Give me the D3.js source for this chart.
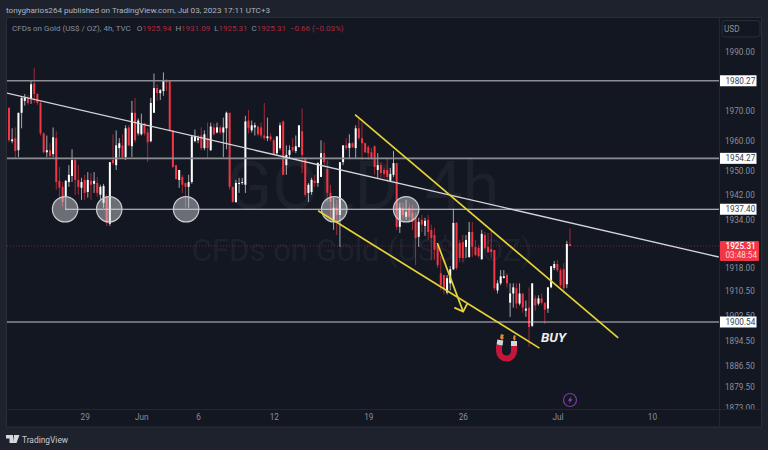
<!DOCTYPE html>
<html><head><meta charset="utf-8">
<script src="https://cdn.jsdelivr.net/npm/d3@7"></script>
<style>html,body{margin:0;padding:0;background:#1e222d;overflow:hidden}svg{display:block}text{font-family:Roboto,"Liberation Sans",sans-serif}</style>
</head><body><svg id="c" width="768" height="450"></svg>
<script>
const opens=[1971.2,1960,1961,1957,1969.5,1973.5,1974.5,1974.2,1979.4,1975.8,1972.8,1962.6,1956.3,1957,1955.7,1961,1946.8,1944.8,1941.5,1946.4,1948.4,1953.7,1947.1,1944.5,1947.1,1943.1,1946.8,1945.8,1946.1,1942.2,1939.5,1941.5,1932.6,1953.7,1952,1957.7,1958.6,1954.7,1964.6,1958.3,1969.5,1962.6,1962.3,1965.9,1962.9,1960,1969.5,1977.8,1976.1,1976.8,1980.4,1980.4,1963.6,1952,1947.1,1948.1,1946.1,1944.8,1946.4,1960,1960.3,1961.9,1957.7,1961,1957,1964.6,1962.9,1964.6,1962.9,1964.3,1969.5,1944.8,1939.8,1945.8,1946.1,1945.5,1966.9,1963.6,1964.6,1964.9,1964.6,1961.9,1961,1961.6,1960.3,1956,1957.7,1966.6,1952,1955.4,1958,1956.7,1958,1963.3,1954.4,1942.8,1943.1,1946.8,1946.1,1948.1,1956,1950.7,1942.8,1933.2,1937.9,1935.5,1953,1958.6,1957.7,1959.3,1957.7,1964.3,1961,1959.3,1958,1956.3,1958.3,1950.4,1952,1950.4,1950.4,1946.8,1948.8,1952.7,1931.6,1937.9,1934.9,1937.9,1936.2,1934.6,1928.3,1933.9,1931.9,1933.9,1930.6,1928.9,1925.7,1916.4,1915.8,1910.1,1913.1,1917.7,1932.9,1926.3,1926.6,1925,1921.7,1929.9,1925,1924.7,1921,1928.9,1925,1924.3,1924,1910.8,1913.1,1914.8,1915.8,1906.8,1909.8,1911.5,1906.5,1909.8,1904.2,1905.2,1899.3,1908.2,1906.5,1908.2,1906.8,1904.9,1911.8,1918.1,1919.4,1917.4,1917.7,1912.8,1925.94];
const highs=[1971.2,1964.3,1964.6,1969.5,1974.8,1975.8,1975.5,1980.4,1984.7,1976.1,1973.5,1962.9,1961.9,1959.3,1964.6,1963.3,1951.4,1946.4,1947.1,1952,1957.3,1954.4,1952,1947.8,1948.8,1949.7,1949.4,1949.7,1948.1,1945.5,1945.8,1942.2,1953,1962.3,1963.6,1961,1962.3,1965.3,1965.3,1973.5,1974.5,1967.6,1969.2,1966.2,1964.3,1974.5,1982.7,1979.1,1977.5,1983.1,1980.8,1980.4,1963.6,1952,1950.4,1948.8,1946.1,1948.8,1961.6,1963.9,1961.9,1964.6,1963.6,1966.2,1966.2,1965.9,1966.2,1965.3,1967.9,1969.9,1969.5,1944.8,1947.1,1947.8,1947.8,1968.5,1970.5,1966.9,1966.2,1965.3,1966.2,1972.8,1967.9,1962.6,1961,1961.6,1966.2,1966.9,1958.6,1958.6,1961,1961.9,1965.3,1970.9,1954.7,1946.1,1947.8,1948.8,1953,1960.3,1959.6,1953.7,1945.5,1941.2,1940.5,1953,1958.6,1961,1962.3,1959.6,1965.3,1967.6,1966.2,1959.6,1958.6,1957.7,1958.6,1956,1953,1951.1,1954.4,1951.1,1956.7,1952.7,1939.5,1939.5,1940.5,1939.2,1938.9,1936.2,1934.6,1935.5,1934.6,1935.5,1932.3,1931.3,1926.3,1922,1915.8,1915.8,1918.7,1937.5,1933.2,1927.3,1928.9,1928.9,1933.2,1933.2,1927.3,1925.7,1930.6,1929.9,1929.6,1930.6,1924,1914.1,1917.4,1917.4,1916.4,1913.1,1913.1,1913.1,1913.1,1909.8,1907.5,1911.8,1913.1,1909.2,1909.2,1909.8,1906.8,1911.8,1918.7,1920.4,1920.7,1918.1,1919.7,1927,1931.09];
const lows=[1959.6,1959.3,1954.4,1954.7,1964.3,1971.9,1972.2,1972.5,1972.8,1972.2,1961.9,1956,1954.7,1954.7,1954.7,1943.8,1940.5,1938.2,1937.2,1944.8,1946.4,1942.2,1942.2,1940.5,1940.5,1941.2,1940.5,1942.8,1941.5,1940.5,1937.9,1931.9,1931.9,1952,1950.4,1954.7,1954.4,1953.7,1958.3,1954.7,1959.6,1961.9,1961.9,1961.9,1953,1959.6,1969.5,1973.5,1973.8,1975.2,1976.8,1963.3,1951.1,1947.1,1944.5,1942.8,1937.9,1937.9,1945.8,1959.6,1959.3,1957,1957,1954.4,1956.7,1961.9,1962.6,1962.3,1954.7,1957.3,1943.8,1939.5,1939.5,1942.8,1945.5,1942.8,1962.6,1962.9,1961.9,1961.6,1961,1960.3,1960,1960,1955.4,1955.4,1957,1948.8,1948.8,1954.4,1956.3,1956,1958,1949.4,1941.5,1939.8,1942.2,1944.8,1944.8,1948.1,1952,1939.8,1934.9,1930.6,1928.9,1925,1952,1957,1954.4,1957.7,1954.4,1960.3,1953.7,1956,1953.7,1953.7,1948.8,1947.8,1947.8,1947.8,1946.4,1946.4,1948.1,1930.6,1929.6,1933.9,1933.9,1933.2,1930.6,1919,1925,1929.9,1928.6,1927.3,1920.7,1920.7,1918.1,1910.8,1909.5,1909.5,1910.8,1917.4,1917.4,1920,1920,1921.4,1921.4,1921.7,1922,1921.4,1920.7,1924,1923,1921.4,1910.8,1909.8,1912.5,1914.8,1911.8,1902.2,1905.2,1904.9,1905.9,1903.5,1902.2,1892.6,1898.9,1904.2,1905.9,1906.2,1899.9,1903.5,1911.5,1917.4,1916.7,1911.8,1910.1,1911.5,1925.31];
const closes=[1960.3,1960.6,1956.7,1969.5,1974.5,1974.5,1972.8,1979.1,1975.8,1972.8,1962.6,1956.3,1957,1955,1961.3,1946.4,1944.5,1939.8,1946.8,1948.8,1953.7,1947.1,1944.8,1946.4,1942.8,1947.1,1945.5,1946.8,1942.8,1944.8,1945.1,1932.9,1953,1952.7,1958.6,1959.3,1954.7,1964.3,1958.6,1969.5,1960.3,1966.9,1965.6,1962.6,1959.6,1972.8,1977.8,1976.1,1977.1,1980.4,1979.8,1963.6,1951.4,1947.4,1950.4,1945.5,1944.8,1946.4,1961.6,1961.6,1961,1957.7,1962.3,1957.7,1964.9,1962.3,1964.6,1962.9,1964.6,1969.5,1944.8,1939.8,1946.1,1946.1,1946.4,1966.6,1964.3,1965.3,1965.3,1962.3,1961.9,1961,1961.6,1960.6,1955.7,1961.6,1965.3,1948.8,1955.4,1957,1957,1958.3,1965.3,1955.4,1942.2,1945.5,1947.1,1946.1,1952.7,1956,1953,1942.8,1939.8,1937.9,1935.5,1953,1958.6,1957.7,1959.3,1958,1964.3,1961,1959.3,1956.3,1956,1954.4,1951.4,1952,1949.4,1949.1,1948.1,1949.1,1952.7,1931.6,1937.9,1935.5,1936.5,1934.9,1933.2,1927.9,1933.2,1932.3,1933.6,1929.9,1927.9,1924,1919,1912.5,1911.5,1914.8,1917.7,1932.9,1918.1,1921.4,1921.4,1927.3,1929.9,1925,1922.4,1922,1929.3,1924.7,1923.3,1923.3,1911.5,1913.1,1915.4,1915.4,1913.1,1909.8,1911.8,1906.5,1909.8,1905.2,1904.9,1898.9,1913.1,1905.9,1908.2,1906.8,1904.5,1911.8,1918.7,1919.4,1917.4,1912.5,1911.5,1925.94,1925.31];
const priceTicks=[1990,1970,1960,1950,1942,1934,1918,1910.5,1902.5,1894.5,1886.5,1879.5,1873];
const levelsHeavy=[1980.27,1954.27];
const levelsLight=[1937.40,1900.54];
const levelLabels=[1980.27,1954.27,1937.40,1900.54];
const lastPrice=1925.31;
const countdown="03:48:54";
const timeTickIdx=[25,43,61,85,115,145,175,205];
const timeTickLabels=["29","Jun","6","12","19","26","Jul","10"];
const touchIdx=[18.8,32.8,57.2,104.2,127];
const trendIdx=[0,226.2], trendPrice=[1976.2,1921.7];
const chanUpperIdx=[110.8,194.3], chanUpperPrice=[1968.9,1895.4];
const chanLowerIdx=[99.1,169.3], chanLowerPrice=[1936.9,1892.1];
const arrowIdx=[136.9,145.1], arrowPrice=[1926.3,1903.9];
const arrowHeadIdx=[142.3,145.1,146.4], arrowHeadPrice=[1905.2,1903.9,1906.5];

const svg=d3.select("#c");
const x=d3.scaleLinear().domain([1,179]).range([9,570]);
const y=d3.scaleLog().domain([1900.54,1990]).range([322,52]);
const GREY="#8a8e99",RED="#f23645",YEL="#e6d335";
const FS=8.2;

svg.append("rect").attr("width",768).attr("height",450).attr("fill","#1e222d");
svg.append("rect").attr("x",6.5).attr("y",17.5).attr("width",755).attr("height",409.5).attr("fill","#131722").attr("stroke","#2a2e39");
svg.append("line").attr("x1",6).attr("x2",761).attr("y1",409.5).attr("y2",409.5).attr("stroke","#23272f");
svg.append("line").attr("x1",719.5).attr("x2",719.5).attr("y1",18).attr("y2",427).attr("stroke","#23272f");
svg.append("defs").append("clipPath").attr("id","pane").append("rect").attr("x",7).attr("y",18).attr("width",712).attr("height",391);
svg.select("defs").append("clipPath").attr("id","ax").append("rect").attr("x",720).attr("y",38).attr("width",41).attr("height",371);

svg.append("text").attr("x",6).attr("y",13).attr("font-size",8.1).attr("fill","#b2b5be").text("tonygharios264 published on TradingView.com, Jul 03, 2023 17:11 UTC+3");

const wm=svg.append("g").attr("fill","#1d212c").attr("text-anchor","middle");
wm.append("text").attr("x",363).attr("y",209).attr("font-size",67).text("GOLD, 4h");
wm.append("text").attr("x",362).attr("y",261).attr("font-size",31).text("CFDs on Gold (US$ / OZ)");

const lg=svg.append("text").attr("x",12).attr("y",31).attr("font-size",8).attr("fill",GREY);
lg.append("tspan").text("CFDs on Gold (US$ / OZ), 4h, TVC  ");
[["O",opens[178]],["H",highs[178]],["L",lows[178]],["C",closes[178]]].forEach(([k,v])=>{
  lg.append("tspan").attr("dx",4).text(k);
  lg.append("tspan").attr("fill","#b0283c").text(v.toFixed(2));
});
lg.append("tspan").attr("dx",4).attr("fill","#b0283c").text("−0.66 (−0.03%)");

const pane=svg.append("g").attr("clip-path","url(#pane)");
pane.append("line").attr("x1",7).attr("x2",719).attr("y1",y(lastPrice)).attr("y2",y(lastPrice)).attr("stroke","#7a2232").attr("stroke-dasharray","1 2");

const candles=d3.range(opens.length).map(i=>({i:i+1,o:opens[i],h:highs[i],l:lows[i],c:closes[i]}));
const col=d=>d.c>=d.o?"#ffffff":RED;
pane.append("g").selectAll("line").data(candles).join("line")
  .attr("x1",d=>x(d.i)).attr("x2",d=>x(d.i)).attr("y1",d=>y(d.h)).attr("y2",d=>y(d.l))
  .attr("stroke",col).attr("stroke-opacity",.62).attr("stroke-width",1);
pane.append("g").selectAll("rect").data(candles).join("rect")
  .attr("x",d=>x(d.i)-1).attr("width",2)
  .attr("y",d=>y(Math.max(d.o,d.c))).attr("height",d=>Math.max(1,y(Math.min(d.o,d.c))-y(Math.max(d.o,d.c))))
  .attr("fill",col);

const line=(xs,ys)=>d3.line().x((d,i)=>x(xs[i])).y((d,i)=>y(ys[i]))(xs);
pane.selectAll(".lh").data(levelsHeavy).join("line").attr("x1",7).attr("x2",719).attr("y1",d=>y(d)).attr("y2",d=>y(d)).attr("stroke","#8c8e94").attr("stroke-width",1.6);
pane.append("line").attr("x1",x(touchIdx[0])).attr("x2",719).attr("y1",y(levelsLight[0])).attr("y2",y(levelsLight[0])).attr("stroke","#d6d8dc").attr("stroke-width",1.2);
pane.append("line").attr("x1",7).attr("x2",719).attr("y1",y(levelsLight[1])).attr("y2",y(levelsLight[1])).attr("stroke","#c4c6cc").attr("stroke-width",1.2);
pane.append("path").attr("d",line(trendIdx,trendPrice)).attr("fill","none").attr("stroke","#d4d6da").attr("stroke-width",1.3);
pane.selectAll("circle").data(touchIdx).join("circle").attr("cx",d=>x(d)).attr("cy",y(levelsLight[0])).attr("r",12.7)
  .attr("fill","#d9dadd").attr("fill-opacity",.45).attr("stroke","#c9cacd").attr("stroke-width",1.2);
[[chanUpperIdx,chanUpperPrice],[chanLowerIdx,chanLowerPrice],[arrowIdx,arrowPrice],[arrowHeadIdx,arrowHeadPrice]].forEach(([a,b])=>
  pane.append("path").attr("d",line(a,b)).attr("fill","none").attr("stroke",YEL).attr("stroke-width",1.7));

const yAxis=d3.axisRight(y).tickValues(priceTicks).tickFormat(d3.format(".2f")).tickSize(0).tickPadding(5);
const ya=svg.append("g").attr("clip-path","url(#ax)").append("g").attr("transform","translate(720,0)").call(yAxis);
ya.select(".domain").remove();
ya.selectAll("text").attr("font-size",FS).attr("fill",GREY).attr("font-family","Roboto,sans-serif");

const xAxis=d3.axisBottom(x).tickValues(timeTickIdx).tickFormat((d,i)=>timeTickLabels[i]).tickSize(0).tickPadding(5);
const xa=svg.append("g").attr("transform","translate(0,409)").call(xAxis);
xa.select(".domain").remove();
xa.selectAll("text").attr("font-size",FS).attr("fill",GREY).attr("font-family","Roboto,sans-serif");

const lab=svg.append("g").selectAll("g").data(levelLabels).join("g").attr("transform",d=>`translate(720,${y(d)})`);
lab.append("rect").attr("y",-5.5).attr("width",36.5).attr("height",11).attr("fill","#fff");
lab.append("text").attr("x",5.5).attr("y",3).attr("font-size",FS).attr("fill","#3a3d45").text(d=>d.toFixed(2));

const last=svg.append("g").attr("transform",`translate(720,${y(lastPrice)})`);
last.append("rect").attr("y",-5).attr("width",39).attr("height",20).attr("rx",1).attr("fill",RED);
last.append("text").attr("x",5.5).attr("y",3.5).attr("font-size",FS).attr("font-weight",500).attr("fill","#fff").text(lastPrice.toFixed(2));
last.append("text").attr("x",5.5).attr("y",12.5).attr("font-size",FS).attr("fill","#ffd9dd").text(countdown);

svg.append("rect").attr("x",722).attr("y",20.5).attr("width",38).attr("height",16.5).attr("rx",3).attr("fill","#131722").attr("stroke","#2a2e39");
svg.append("text").attr("x",724).attr("y",31.5).attr("font-size",FS).attr("fill",GREY).text("USD");

svg.append("text").attr("x",541).attr("y",342).attr("font-size",13.5).attr("font-weight",700).attr("font-style","italic").attr("fill","#eceef0").text("BUY");

const mag=svg.append("g");
mag.append("path").attr("d","M496,345 L496,351 A10.5,10.5 0 0 0 517,351 L517,345 L511,345 L511,351 A4.5,4.5 0 0 1 502,351 L502,345 Z").attr("fill","#c4163a");
mag.append("rect").attr("x",497).attr("y",340).attr("width",6).attr("height",5).attr("fill","#d6d6da").attr("transform","rotate(8 500 342)");
mag.append("rect").attr("x",511).attr("y",341).attr("width",6).attr("height",5).attr("fill","#d6d6da");
mag.append("path").attr("d","M501,334 l3,1 l-1,2 l1,1 l-2,2 l-2,-2 Z M514,335 l2,1 l-1,2 l1,1 l-2,2 l-1,-3 Z").attr("fill","#e58a2a");

svg.append("circle").attr("cx",570).attr("cy",400).attr("r",6.5).attr("fill","none").attr("stroke","#7b3aa0").attr("stroke-width",1.2);
svg.append("path").attr("d","M571.5,396 L567.8,400.8 L570,400.8 L568.8,404 L572.4,399.2 L570.2,399.2 Z").attr("fill","#8a4ab0");

const logo=svg.append("g").attr("fill","#d5d7dc");
logo.append("path").attr("d","M6,435 H13 V443 H9.5 V438.5 H6 Z M14,435 H19.5 L16.5,443 H12.8 Z");
logo.append("circle").attr("cx",15.5).attr("cy",436.5).attr("r",1.4);
svg.append("text").attr("x",22).attr("y",443).attr("font-size",8.4).attr("fill","#c8cad0").text("TradingView");
</script></body></html>
